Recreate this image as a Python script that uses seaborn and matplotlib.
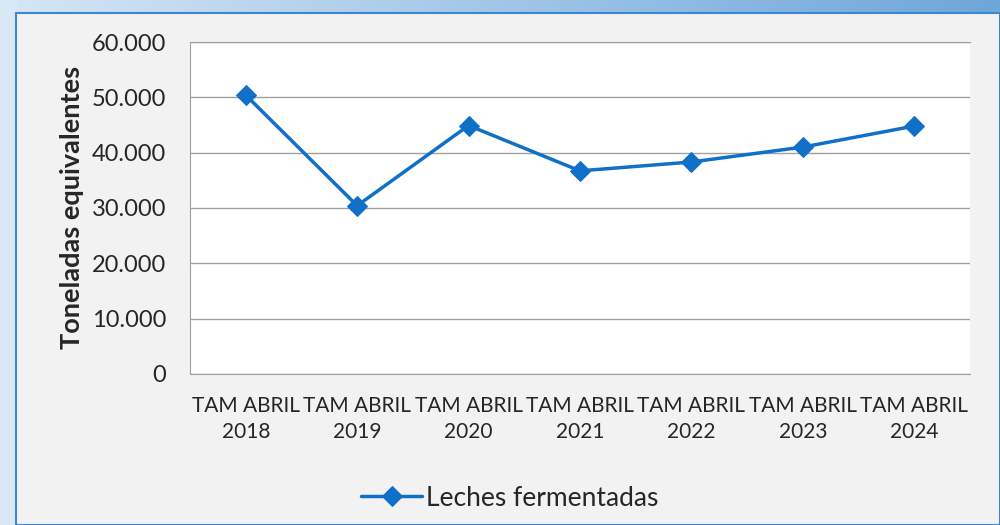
import numpy as np
import pandas as pd
import seaborn as sns
from matplotlib import pyplot as plt
from matplotlib.patches import Rectangle

years = ["2018", "2019", "2020", "2021", "2022", "2023", "2024"]
labels = [f"TAM ABRIL\n{y}" for y in years]
toneladas = [50400, 30400, 44900, 36700, 38300, 41000, 44800]
series_name = "Leches fermentadas"
blue = "#1070c8"


def main():
    sns.set_style("white")
    plt.rcParams["font.family"] = ["Lato", "DejaVu Sans"]

    df = pd.DataFrame({"periodo": labels, "valor": toneladas, "serie": series_name})

    fig = plt.figure(figsize=(10, 5.25), dpi=100)

    # background: blue gradient frame + gray panel
    bg = fig.add_axes([0, 0, 1, 1], zorder=-10)
    grad = np.linspace(0, 1, 256).reshape(1, -1)
    bg.imshow(grad, extent=[0, 1, 0, 1], aspect="auto", cmap=sns.blend_palette(["#d6e6f5", "#6ea6da"], as_cmap=True))
    bg.add_patch(Rectangle((0, 0), 0.016, 1, color="#d9e8f6", zorder=1))
    bg.add_patch(Rectangle((0.016, 0), 0.984, 0.976, facecolor="#f2f2f2", edgecolor="#3f86cf", linewidth=1.5, zorder=2))
    bg.set_xlim(0, 1)
    bg.set_ylim(0, 1)
    bg.axis("off")

    ax = fig.add_axes([0.19, 0.288, 0.78, 0.632])
    ax.set_facecolor("white")
    sns.lineplot(data=df, x="periodo", y="valor", hue="serie", palette=[blue], marker="D",
                 markersize=10, markeredgecolor=blue, linewidth=2.5, sort=False, ax=ax)

    ax.set_xlim(-0.5, len(labels) - 0.5)
    ax.set_ylim(0, 60000)
    ax.set_yticks(range(0, 60001, 10000))
    ax.set_yticklabels(["0" if v == 0 else f"{v // 1000}.000" for v in range(0, 60001, 10000)], fontsize=17)
    ax.tick_params(axis="x", labelsize=15, length=0, pad=16)
    ax.tick_params(axis="y", length=0, pad=17)
    for t in ax.get_xticklabels():
        t.set_linespacing(1.35)
    ax.yaxis.grid(True, color="#a0a0a0", linewidth=1)
    ax.set_axisbelow(True)
    for s in ax.spines.values():
        s.set_color("#a0a0a0")
    ax.spines["right"].set_visible(False)
    ax.set_xlabel("")
    ax.set_ylabel("Toneladas equivalentes", fontsize=19.5, fontweight="bold", labelpad=6)

    leg = ax.legend(loc="center", bbox_to_anchor=(0.41, -0.375), frameon=False, fontsize=19,
                    handlelength=2.3, handletextpad=0.15)
    for line in leg.get_lines():
        line.set_linewidth(2.5)

    fig.savefig("out.png", dpi=100)


if __name__ == "__main__":
    main()
